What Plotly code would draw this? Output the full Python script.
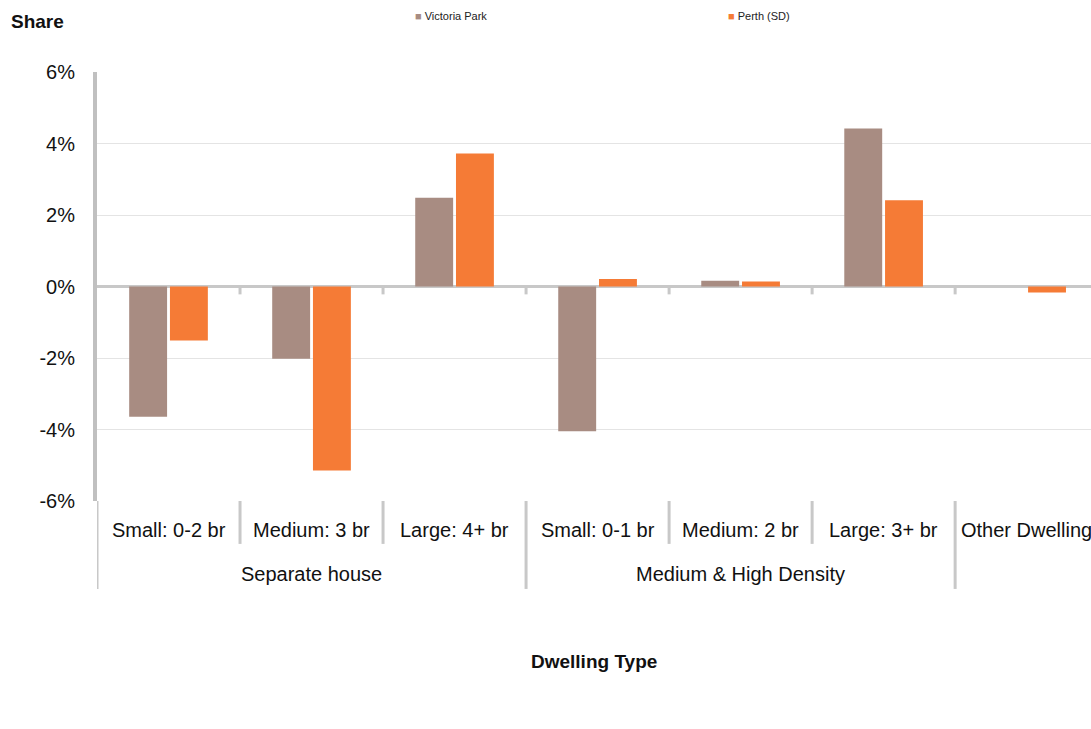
import plotly.graph_objects as go

# Dwelling type categories (inner level) and their parent groups
categories = ["Small: 0-2 br", "Medium: 3 br", "Large: 4+ br",
              "Small: 0-1 br", "Medium: 2 br", "Large: 3+ br", "Other Dwelling"]
groups = ["Separate house", "Separate house", "Separate house",
          "Medium & High Density", "Medium & High Density", "Medium & High Density", ""]

# Change in share (percentage points)
victoria_park = [-3.64, -2.02, 2.48, -4.05, 0.16, 4.42, 0.0]
perth_sd = [-1.51, -5.15, 3.72, 0.21, 0.14, 2.41, -0.17]

y_ticks = [-6, -4, -2, 0, 2, 4, 6]
y_tick_text = ["-6%", "-4%", "-2%", "0%", "2%", "4%", "6%"]

VP_COLOR = "#A88C82"
PERTH_COLOR = "#F57B36"
DIVIDER = "#C8C8C8"
FONT = "Liberation Sans, Arial, sans-serif"

x = list(range(len(categories)))

fig = go.Figure()
fig.add_trace(go.Bar(x=x, y=victoria_park, name="Victoria Park",
                     marker=dict(color=VP_COLOR, line=dict(width=0)),
                     showlegend=False))
fig.add_trace(go.Bar(x=x, y=perth_sd, name="Perth (SD)",
                     marker=dict(color=PERTH_COLOR, line=dict(width=0)),
                     showlegend=False))

shapes = []
# separators between neighbouring categories: long at group edges, short otherwise
boundaries = [-0.5] + [i + 0.5 for i in range(len(categories) - 1)]
for b in boundaries:
    left = int(b - 0.5) if b > 0 else None
    right = int(b + 0.5)
    group_edge = left is None or groups[left] != groups[right]
    shapes.append(dict(type="line", xref="x", yref="paper", x0=b, x1=b,
                       y0=0, y1=-0.205 if group_edge else -0.1,
                       line=dict(color=DIVIDER, width=3)))
    if left is not None:
        # small tick below the zero line
        shapes.append(dict(type="line", xref="x", yref="y", x0=b, x1=b,
                           y0=0, y1=-0.22, line=dict(color=DIVIDER, width=3)))

annotations = []
# category labels (drawn as annotations so the last one is not dropped at the edge)
for i, c in enumerate(categories):
    annotations.append(dict(text=c, x=i, xref="x", y=-0.0676, yref="paper",
                            showarrow=False, yanchor="middle",
                            font=dict(family=FONT, size=20, color="#111111")))

# group labels centred under their categories
seen = []
for g in groups:
    if g and g not in seen:
        seen.append(g)
for g in seen:
    idx = [i for i, gg in enumerate(groups) if gg == g]
    annotations.append(dict(text=g, x=sum(idx) / len(idx), xref="x", y=-0.170, yref="paper",
                            showarrow=False, yanchor="middle",
                            font=dict(family=FONT, size=20, color="#111111")))

annotations += [
    dict(text="<b>Share</b>", x=-0.0885, xref="paper", y=1.1166, yref="paper",
         xanchor="left", yanchor="middle", showarrow=False,
         font=dict(family=FONT, size=19, color="#111111")),
    dict(text="<b>Dwelling Type</b>", x=0.5, xref="paper", y=-0.373, yref="paper",
         xanchor="center", yanchor="middle", showarrow=False,
         font=dict(family=FONT, size=19, color="#111111")),
    dict(text=f"<span style='color:{VP_COLOR}'>■</span> Victoria Park",
         x=0.318, xref="paper", y=1.1305, yref="paper",
         xanchor="left", yanchor="middle", showarrow=False,
         font=dict(family=FONT, size=11, color="#222222")),
    dict(text=f"<span style='color:{PERTH_COLOR}'>■</span> Perth (SD)",
         x=0.633, xref="paper", y=1.1305, yref="paper",
         xanchor="left", yanchor="middle", showarrow=False,
         font=dict(family=FONT, size=11, color="#222222")),
]

fig.update_layout(
    width=1091, height=729,
    margin=dict(l=97, r=0, t=72, b=228),
    paper_bgcolor="white", plot_bgcolor="white",
    barmode="group", bargap=0.43, bargroupgap=0.07,
    font=dict(family=FONT, color="#111111"),
    shapes=shapes, annotations=annotations,
)
fig.update_xaxes(
    range=[-0.5, 6.45], tickmode="array", tickvals=x,
    showticklabels=False,
    showgrid=False, zeroline=False, showline=False, ticks="",
)
fig.update_yaxes(
    range=[-6, 6], tickmode="array", tickvals=y_ticks, ticktext=y_tick_text,
    showgrid=True, gridcolor="#E4E4E4", gridwidth=1,
    zeroline=True, zerolinecolor=DIVIDER, zerolinewidth=3,
    showline=True, linecolor="#C0C0C0", linewidth=4,
    ticks="", ticklabelstandoff=14,
    tickfont=dict(family=FONT, size=20, color="#111111"),
)

fig.write_html("out.html")
